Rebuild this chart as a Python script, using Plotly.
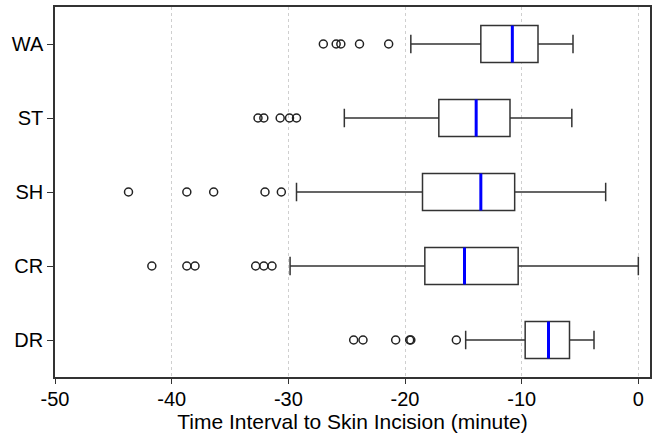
import plotly.graph_objects as go

groups = ["WA", "ST", "SH", "CR", "DR"]
positions = [4, 3, 2, 1, 0]
q1 = [-13.5, -17.1, -18.5, -18.3, -9.7]
median = [-10.8, -13.9, -13.5, -14.9, -7.7]
q3 = [-8.6, -11.0, -10.6, -10.3, -5.9]
lower_fence = [-19.5, -25.2, -29.3, -29.85, -14.8]
upper_fence = [-5.6, -5.7, -2.8, 0.0, -3.8]
outliers = [
    [-27.0, -25.9, -25.5, -23.9, -21.4],
    [-32.6, -32.1, -30.7, -29.9, -29.3],
    [-43.7, -38.7, -36.4, -32.0, -30.6],
    [-41.7, -38.7, -38.0, -32.8, -32.1, -31.4],
    [-24.4, -23.6, -20.8, -19.6, -19.5, -15.6],
]
x_ticks = [-50, -40, -30, -20, -10, 0]

BOX_W = 0.5
fig = go.Figure()
font = "Liberation Sans, Arial, sans-serif"

for i, g in enumerate(groups):
    p = positions[i]
    fig.add_trace(go.Box(
        orientation="h", y=[p], q1=[q1[i]], median=[median[i]], q3=[q3[i]],
        lowerfence=[lower_fence[i]], upperfence=[upper_fence[i]],
        width=BOX_W, whiskerwidth=0.5, fillcolor="white",
        line=dict(color="#333333", width=1.5), boxpoints=False,
        showlegend=False, hoverinfo="skip",
    ))
    fig.add_trace(go.Scatter(
        x=[median[i], median[i]], y=[p - BOX_W / 2, p + BOX_W / 2],
        mode="lines", line=dict(color="#0000ff", width=3),
        showlegend=False, hoverinfo="skip",
    ))
    fig.add_trace(go.Scatter(
        x=outliers[i], y=[p] * len(outliers[i]), mode="markers",
        marker=dict(symbol="circle-open", size=8, color="#222222",
                    line=dict(width=1.5)),
        showlegend=False, hoverinfo="skip",
    ))

fig.update_layout(
    width=653, height=442,
    margin=dict(l=55, r=1, t=7, b=65),
    plot_bgcolor="white", paper_bgcolor="white",
    font=dict(family=font, size=20, color="black"),
    xaxis=dict(
        range=[-50, 1], tickvals=x_ticks, ticktext=[str(v) for v in x_ticks],
        ticks="outside", ticklen=5, tickcolor="#333333",
        ticklabelstandoff=-2,
        showgrid=True, gridcolor="#cfcfcf", griddash="dot", gridwidth=1,
        zeroline=False, showline=True, linecolor="#333333", linewidth=1.5,
        mirror=True,
        title=dict(text="Time Interval to Skin Incision (minute)",
                   font=dict(size=21), standoff=4),
    ),
    yaxis=dict(
        range=[-0.5, 4.5], tickvals=positions, ticktext=groups,
        ticks="outside", ticklen=6, tickcolor="#333333",
        showgrid=False, zeroline=False, showline=True,
        linecolor="#333333", linewidth=1.5, mirror=True,
    ),
)

fig.write_html("out.html")
